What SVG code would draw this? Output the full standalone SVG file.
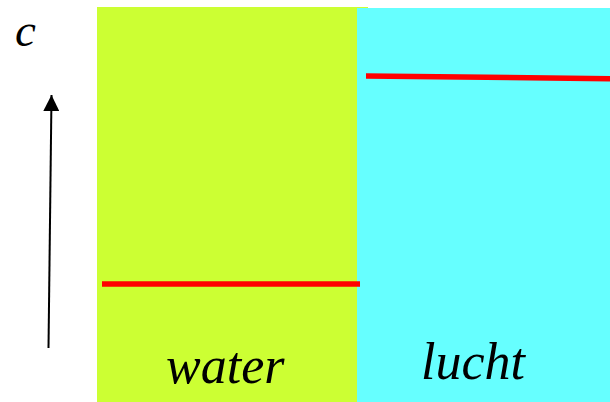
<svg xmlns="http://www.w3.org/2000/svg" width="610" height="402" viewBox="0 0 610 402">
<style>
.lbl{font-family:"Liberation Serif","Times New Roman",serif;font-style:italic;fill:#000}
.lvl{stroke:#ff0000;stroke-width:5.5;fill:none}
</style>
<defs>
<marker id="ah" markerWidth="16" markerHeight="16" viewBox="0 0 16 16" refX="16" refY="8" orient="auto" markerUnits="userSpaceOnUse">
<path d="M0,0 L16,8 L0,16 Z" fill="#000"/>
</marker>
</defs>
<rect width="610" height="402" fill="#fff"/>
<g id="water">
<rect x="97" y="7" width="271" height="395" fill="#ccff33"/>
<text class="lbl" x="166" y="383" font-size="52">water</text>
</g>
<g id="lucht">
<rect x="357" y="8" width="253" height="394" fill="#66ffff"/>
<text class="lbl" x="421" y="379" font-size="52">lucht</text>
</g>
<g id="axis">
<text class="lbl" x="15" y="46" font-size="47">c</text>
</g>
<g id="connectors">
<line x1="48.5" y1="348" x2="51.5" y2="95" stroke="#000" stroke-width="2" marker-end="url(#ah)"/>
<line class="lvl" x1="102" y1="284" x2="360" y2="284"/>
<line class="lvl" x1="366" y1="76" x2="610" y2="78.7"/>
</g>
</svg>
